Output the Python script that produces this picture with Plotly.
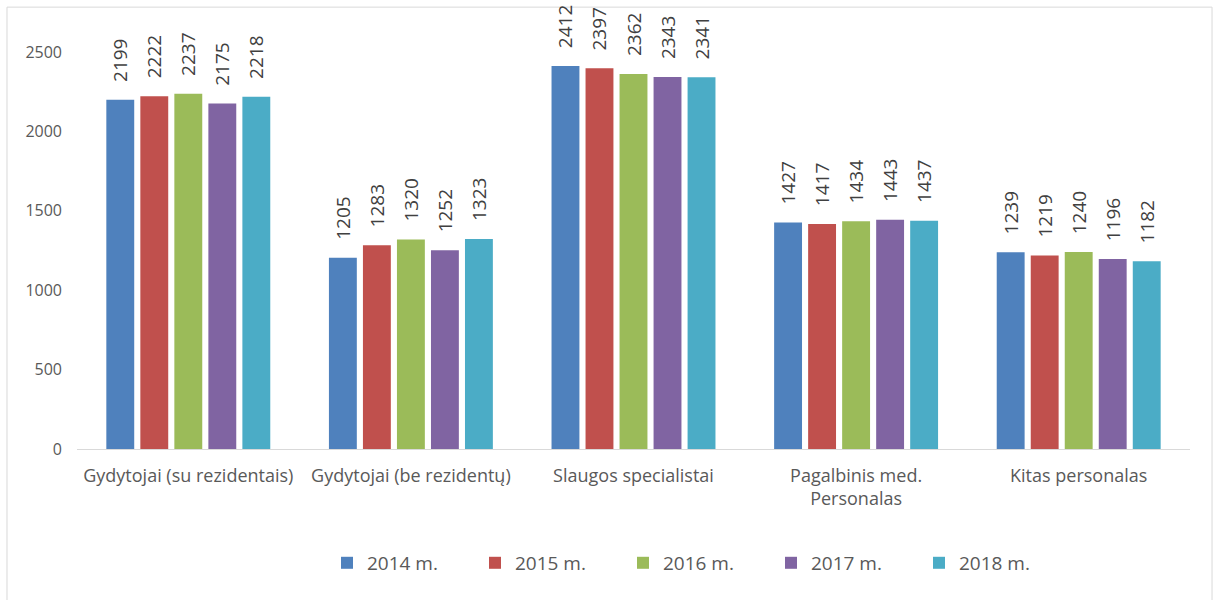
import plotly.graph_objects as go

# staff categories and yearly counts
categories = [
    "Gydytojai (su rezidentais)",
    "Gydytojai (be rezidentų)",
    "Slaugos specialistai",
    "Pagalbinis med.<br>Personalas",
    "Kitas personalas",
]
years = ["2014 m.", "2015 m.", "2016 m.", "2017 m.", "2018 m."]

v2014 = [2199, 1205, 2412, 1427, 1239]
v2015 = [2222, 1283, 2397, 1417, 1219]
v2016 = [2237, 1320, 2362, 1434, 1240]
v2017 = [2175, 1252, 2343, 1443, 1196]
v2018 = [2218, 1323, 2341, 1437, 1182]

series = [v2014, v2015, v2016, v2017, v2018]
colors = ["#4F81BD", "#C0504D", "#9BBB59", "#8064A2", "#4BACC6"]

FONT = "Open Sans"
TXT = "#595959"

fig = go.Figure()
for name, vals, col in zip(years, series, colors):
    fig.add_trace(go.Bar(
        x=categories,
        y=vals,
        name=name,
        marker=dict(color=col, line=dict(width=0)),
        text=vals,
        # non-breaking spaces push the rotated label up off the bar
        texttemplate="\u00a0\u00a0\u00a0%{text}",
        textposition="outside",
        textangle=-90,
        constraintext="none",
        cliponaxis=False,
        textfont=dict(family=FONT, size=19, color="#404040"),
    ))

fig.update_layout(
    width=1219,
    height=600,
    barmode="group",
    bargap=0.236,
    bargroupgap=0.18,
    plot_bgcolor="white",
    paper_bgcolor="white",
    margin=dict(l=77, r=29, t=52, b=151),
    font=dict(family=FONT, color=TXT),
    legend=dict(
        orientation="h",
        x=0.2246,
        xanchor="left",
        y=-0.287,
        yanchor="middle",
        font=dict(family=FONT, size=19, color=TXT),
        entrywidth=103,
        traceorder="normal",
    ),
    shapes=[dict(
        type="rect", xref="paper", yref="paper",
        x0=-0.0629, x1=1.0198, y0=-0.42, y1=1.113,
        line=dict(color="#D9D9D9", width=1),
        fillcolor="rgba(0,0,0,0)",
        layer="below",
    )],
)

fig.update_xaxes(
    showline=True,
    linecolor="#D9D9D9",
    linewidth=1,
    ticks="",
    ticklabelstandoff=10,
    tickfont=dict(family=FONT, size=18, color=TXT),
    tickangle=0,
)
fig.update_yaxes(
    range=[0, 2500],
    tickvals=[0, 500, 1000, 1500, 2000, 2500],
    showgrid=False,
    zeroline=False,
    showline=False,
    ticks="",
    ticklabelstandoff=14,
    tickfont=dict(family=FONT, size=16, color=TXT),
)

# drop the default body margin so the chart sits at the page corner
fig.write_html(
    "out.html",
    config={"displayModeBar": False},
    post_script="document.body.style.margin='0';",
)
